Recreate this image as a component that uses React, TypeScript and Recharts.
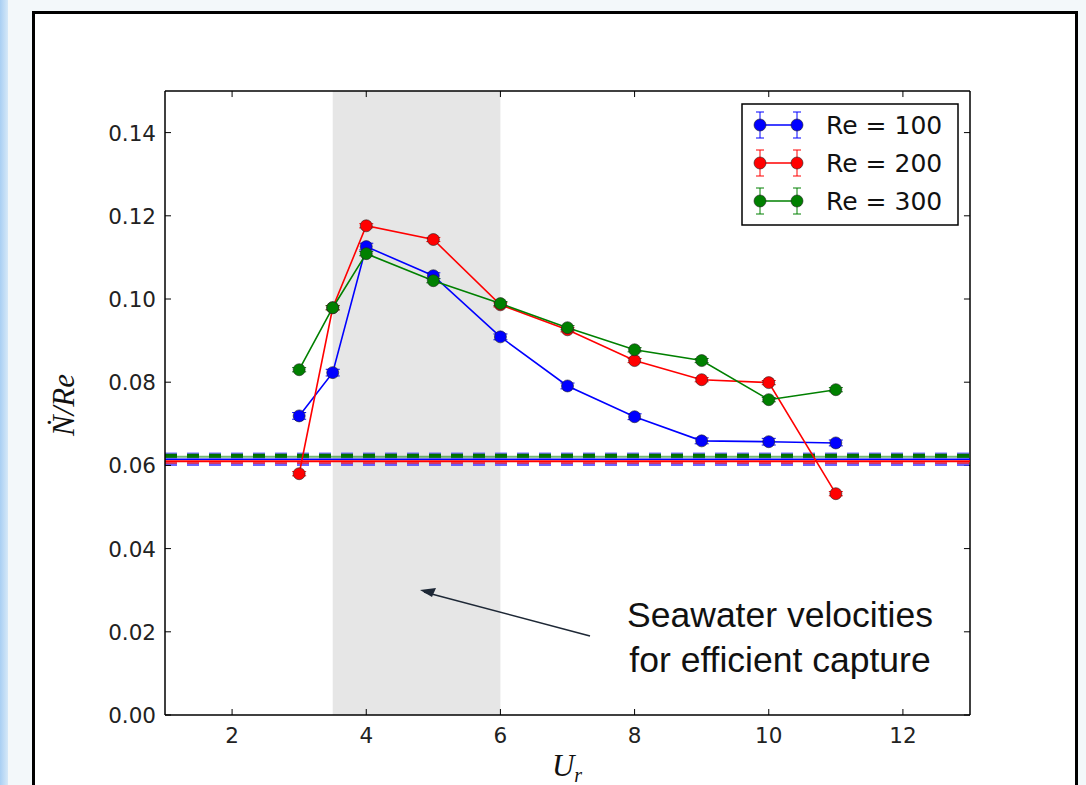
import { ComposedChart, Line, XAxis, YAxis, ReferenceArea, ReferenceLine, ErrorBar } from 'recharts';

// reduced velocity U_r
const ur = [3, 3.5, 4, 5, 6, 7, 8, 9, 10, 11];
const re100 = [0.0719, 0.0823, 0.1126, 0.1056, 0.0909, 0.0791, 0.0717, 0.0659, 0.0657, 0.0654];
const re200 = [0.058, 0.0979, 0.1176, 0.1143, 0.0986, 0.0926, 0.0852, 0.0806, 0.0799, 0.0532];
const re300 = [0.083, 0.0979, 0.1109, 0.1044, 0.0989, 0.0931, 0.0878, 0.0852, 0.0758, 0.0782];
const err100 = [0.0008, 0.0008, 0.0008, 0.0007, 0.0007, 0.0007, 0.0007, 0.0007, 0.0008, 0.0007];
const err200 = [0.0005, 0.0005, 0.0005, 0.0005, 0.0005, 0.0005, 0.0005, 0.0005, 0.0005, 0.0005];
const err300 = [0.0005, 0.0005, 0.0005, 0.0005, 0.0005, 0.0005, 0.0005, 0.0005, 0.0005, 0.0005];

const seriesNames = ['Re = 100', 'Re = 200', 'Re = 300'];
const seriesColors = ['#0000ff', '#ff0000', '#008000'];

const xDomain = [1, 13];
const yDomain = [0, 0.15];
const xTicks = [2, 4, 6, 8, 10, 12];
const yTicks = [0, 0.02, 0.04, 0.06, 0.08, 0.1, 0.12, 0.14];

// fixed-cylinder reference levels (solid) and their bands (dashed)
const refDashed = [
  { y: 0.0624, color: '#3b3bff', width: 6, opacity: 0.7 },
  { y: 0.0623, color: '#007000', width: 4, opacity: 1 },
  { y: 0.0603, color: '#4a3cff', width: 3.5, opacity: 0.8 },
  { y: 0.0606, color: '#ff2020', width: 1.5, opacity: 0.9 },
];
const refSolid = [
  { y: 0.0621, color: '#008000', width: 2, opacity: 0.55 },
  { y: 0.0615, color: '#0000ff', width: 1.5, opacity: 1 },
  { y: 0.061, color: '#ff0000', width: 2, opacity: 1 },
];

const data = ur.map((u, i) => ({
  ur: u,
  r100: re100[i],
  r200: re200[i],
  r300: re300[i],
  e100: err100[i],
  e200: err200[i],
  e300: err300[i],
}));

const tickFont = { fontFamily: 'DejaVu Sans', fontSize: 21.5, fill: '#222' };
// inward tick length in data units (~6px)
const tickLenY = 0.00145;
const tickLenX = 0.09;

const BottomTick = (p: any) => (
  <g>
    <line x1={p.x} x2={p.x} y1={p.y} y2={p.y - 6} stroke="#000" strokeWidth={1} />
    <text x={p.x} y={p.y + 28} textAnchor="middle" {...tickFont}>{p.payload.value}</text>
  </g>
);
const LeftTick = (p: any) => (
  <g>
    <line x1={p.x} x2={p.x + 6} y1={p.y} y2={p.y} stroke="#000" strokeWidth={1} />
    <text x={p.x - 9} y={p.y + 8} textAnchor="end" {...tickFont}>{Number(p.payload.value).toFixed(2)}</text>
  </g>
);

function LegendBox() {
  return (
    <svg width={220} height={125} style={{ position: 'absolute', left: 741, top: 103 }}>
      <rect x={1} y={1} width={216} height={121} fill="#fff" stroke="#000" strokeWidth={1.5} />
      {seriesNames.map((name, i) => {
        const cy = 22 + i * 38;
        const c = seriesColors[i];
        return (
          <g key={name}>
            <line x1={19} x2={56} y1={cy} y2={cy} stroke={c} strokeWidth={1.5} />
            {[19, 56].map((cx) => (
              <g key={cx}>
                <line x1={cx} x2={cx} y1={cy - 13} y2={cy + 13} stroke={c} strokeWidth={1} />
                <line x1={cx - 4} x2={cx + 4} y1={cy - 13} y2={cy - 13} stroke={c} strokeWidth={1} />
                <line x1={cx - 4} x2={cx + 4} y1={cy + 13} y2={cy + 13} stroke={c} strokeWidth={1} />
                <circle cx={cx} cy={cy} r={6} fill={c} stroke="#222" strokeWidth={0.6} />
              </g>
            ))}
            <text x={85} y={cy + 9} fontFamily="DejaVu Sans" fontSize={25} fill="#111">{name}</text>
          </g>
        );
      })}
    </svg>
  );
}

export default function App() {
  const keys = ['r100', 'r200', 'r300'];
  const errKeys = ['e100', 'e200', 'e300'];
  return (
    <div style={{ position: 'absolute', left: 0, top: 0, width: 1086, height: 785, overflow: 'hidden', background: '#f3f8fa' }}>
      <div style={{ position: 'absolute', left: 0, top: 0, width: 8, height: 785, background: 'linear-gradient(to right, #a9cff3, #d6e9f8)' }} />
      <div style={{ position: 'absolute', left: 32, top: 11, width: 1040, height: 800, background: '#fff', border: '3px solid #000' }} />
      <div style={{ position: 'absolute', left: 0, top: 0 }}>
        <ComposedChart width={1086} height={785} data={data} margin={{ top: 91, right: 116, bottom: 30, left: 105 }}>
          <ReferenceArea x1={3.5} x2={6} fill="#e6e6e6" fillOpacity={1} stroke="none" />
          <XAxis
            dataKey="ur"
            type="number"
            domain={xDomain}
            ticks={xTicks}
            height={40}
            tickSize={0}
            tickMargin={0}
            tickLine={false}
            tick={BottomTick}
            axisLine={{ stroke: '#000', strokeWidth: 1.5 }}
            allowDataOverflow
          />
          <YAxis
            type="number"
            domain={yDomain}
            ticks={yTicks}
            width={60}
            tickSize={0}
            tickMargin={0}
            tickLine={false}
            tick={LeftTick}
            axisLine={{ stroke: '#000', strokeWidth: 1.5 }}
            allowDataOverflow
          />
          {/* top and right spines with inward ticks */}
          <ReferenceLine y={yDomain[1]} stroke="#000" strokeWidth={1.5} ifOverflow="visible" />
          <ReferenceLine x={xDomain[1]} stroke="#000" strokeWidth={1.5} ifOverflow="visible" />
          {xTicks.map((t) => (
            <ReferenceLine
              key={'tt' + t}
              segment={[{ x: t, y: yDomain[1] }, { x: t, y: yDomain[1] - tickLenY }]}
              stroke="#000"
              strokeWidth={1}
              ifOverflow="visible"
            />
          ))}
          {yTicks.map((t) => (
            <ReferenceLine
              key={'rt' + t}
              segment={[{ x: xDomain[1], y: t }, { x: xDomain[1] - tickLenX, y: t }]}
              stroke="#000"
              strokeWidth={1}
              ifOverflow="visible"
            />
          ))}
          {refDashed.map((r, i) => (
            <ReferenceLine key={'d' + i} y={r.y} stroke={r.color} strokeWidth={r.width} strokeOpacity={r.opacity} strokeDasharray="12 10" />
          ))}
          {refSolid.map((r, i) => (
            <ReferenceLine key={'s' + i} y={r.y} stroke={r.color} strokeWidth={r.width} strokeOpacity={r.opacity} />
          ))}
          {keys.map((k, i) => (
            <Line
              key={k}
              dataKey={k}
              name={seriesNames[i]}
              type="linear"
              stroke={seriesColors[i]}
              strokeWidth={1.6}
              dot={{ r: 6, fill: seriesColors[i], stroke: '#222', strokeWidth: 0.6 }}
              isAnimationActive={false}
            >
              <ErrorBar dataKey={errKeys[i]} direction="y" width={7} stroke={seriesColors[i]} strokeWidth={1} />
            </Line>
          ))}
        </ComposedChart>
      </div>
      <LegendBox />
      <svg width={1086} height={785} style={{ position: 'absolute', left: 0, top: 0, pointerEvents: 'none' }}>
        <line x1={590} y1={636} x2={424} y2={592} stroke="#1e2836" strokeWidth={1.6} />
        <path d="M420,590 L436,588 L432,597 Z" fill="#1e2836" />
        <text x={780} y={627} textAnchor="middle" fontFamily="Liberation Sans" fontSize={35.5} fill="#111">Seawater velocities</text>
        <text x={780} y={672} textAnchor="middle" fontFamily="Liberation Sans" fontSize={35.5} fill="#111">for efficient capture</text>
        <text x={74} y={405} transform="rotate(-90 74 405)" textAnchor="middle" fontFamily="Liberation Serif" fontStyle="italic" fontSize={31} fill="#111">
          Ṅ/Re
        </text>
        <text x={567} y={776} textAnchor="middle" fontFamily="Liberation Serif" fontStyle="italic" fontSize={31} fill="#111">
          U<tspan fontSize={20} dy={6}>r</tspan>
        </text>
      </svg>
    </div>
  );
}
